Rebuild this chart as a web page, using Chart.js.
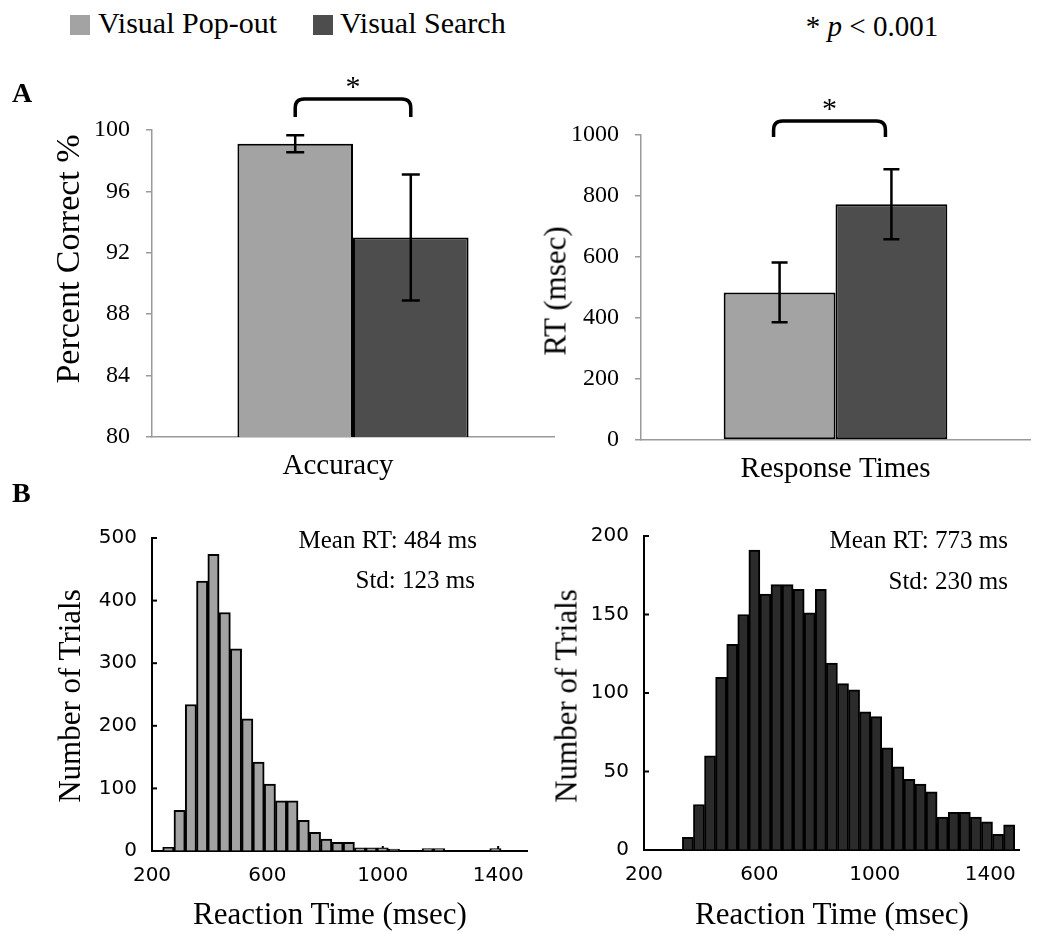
<!DOCTYPE html>
<html>
<head>
<meta charset="utf-8">
<title>Visual pop-out vs visual search</title>
<script src="https://cdn.jsdelivr.net/npm/chart.js@4.4.1/dist/chart.umd.min.js"></script>
<style>
  body { margin: 0; background: #fff; }
  #page { position: relative; width: 1050px; height: 935px; overflow: hidden;
          font-family: 'Liberation Serif', 'Times New Roman', serif; color: #000; }
  canvas { position: absolute; }
  .t { position: absolute; white-space: nowrap; line-height: 1; }
  .rot { transform: translate(-50%, -50%) rotate(-90deg); }
  .sq { position: absolute; width: 20px; height: 20px; }
</style>
</head>
<body>
<div id="page">
  <canvas id="accChart" width="560" height="430" style="left:0;top:60px"></canvas>
  <canvas id="rtChart" width="490" height="430" style="left:560px;top:60px"></canvas>
  <canvas id="popHist" width="560" height="410" style="left:0;top:490px"></canvas>
  <canvas id="searchHist" width="490" height="410" style="left:560px;top:490px"></canvas>

  <!-- legend -->
  <div class="sq" style="left:70px;top:15px;background:#a3a3a3"></div>
  <div class="t" id="leg0" style="left:98px;top:8px;font-size:30px"></div>
  <div class="sq" style="left:313px;top:15px;background:#4d4d4d"></div>
  <div class="t" id="leg1" style="left:340px;top:8px;font-size:30px"></div>
  <div class="t" style="left:672px;width:400px;text-align:center;top:12px;font-size:29px">* <i>p</i> &lt; 0.001</div>

  <div class="t" style="left:12px;top:79px;font-size:28px;font-weight:bold">A</div>
  <div class="t" style="left:12px;top:479px;font-size:28px;font-weight:bold">B</div>

  <!-- axis titles -->
  <div class="t rot" style="left:68px;top:259px;font-size:34px">Percent Correct %</div>
  <div class="t rot" style="left:555px;top:291px;font-size:31px">RT (msec)</div>
  <div class="t rot" style="left:69px;top:696px;font-size:31px">Number of Trials</div>
  <div class="t rot" style="left:566px;top:696px;font-size:31px">Number of Trials</div>
  <div class="t" style="left:130px;width:400px;text-align:center;top:898px;font-size:31px">Reaction Time (msec)</div>
  <div class="t" style="left:632px;width:400px;text-align:center;top:898px;font-size:31px">Reaction Time (msec)</div>

  <!-- histogram stats -->
  <div class="t" id="popMean" style="right:573px;top:527px;font-size:25px"></div>
  <div class="t" id="popStd" style="right:575px;top:567px;font-size:25px"></div>
  <div class="t" id="searchMean" style="right:42px;top:527px;font-size:25px"></div>
  <div class="t" id="searchStd" style="right:42px;top:568px;font-size:25px"></div>
</div>

<script>
// --- data ---
const groupLabels = ['Visual Pop-out', 'Visual Search'];

const accuracyCategory = ['Accuracy'];
const accuracyMean = [99.1, 93.0];
const accuracyErr = [0.55, 4.1];
const accuracyTicks = [80, 84, 88, 92, 96, 100];

const rtCategory = ['Response Times'];
const rtMean = [484, 773];
const rtErr = [98, 115];
const rtTicks = [0, 200, 400, 600, 800, 1000];

// histogram bin centres (ms) and counts
const popoutBins = [256.6, 295.7, 334.8, 373.9, 413.0, 452.1, 491.2, 530.3, 569.4, 608.5,
                    647.6, 686.7, 725.8, 764.9, 804.0, 843.1, 882.2, 921.3, 960.4, 999.5,
                    1038.6, 1077.7, 1116.8, 1155.9, 1195.0, 1234.1, 1273.2, 1312.3, 1351.4, 1390.5];
const popoutCounts = [6, 65, 234, 431, 474, 381, 323, 211, 142, 107,
                      80, 80, 49, 30, 19, 14, 14, 5, 5, 5,
                      3, 0, 0, 4, 4, 0, 0, 0, 0, 4];

const searchBins = [352.2, 390.6, 429.0, 467.4, 505.8, 544.2, 582.6, 621.0, 659.4, 697.8,
                    736.2, 774.6, 813.0, 851.4, 889.8, 928.2, 966.6, 1005.0, 1043.4, 1081.8,
                    1120.2, 1158.6, 1197.0, 1235.4, 1273.8, 1312.2, 1350.6, 1389.0, 1427.4, 1465.8];
const searchCounts = [8, 29, 60, 110, 131, 150, 191, 163, 169, 169,
                      166, 151, 166, 119, 106, 102, 88, 85, 65, 53,
                      45, 42, 37, 21, 24, 24, 21, 18, 10, 16];

const histXTicks = [200, 600, 1000, 1400];
const popoutYTicks = [0, 100, 200, 300, 400, 500];
const searchYTicks = [0, 50, 100, 150, 200];

const popoutStats = ['Mean RT: 484 ms', 'Std: 123 ms'];
const searchStats = ['Mean RT: 773 ms', 'Std: 230 ms'];

// --- styling ---
const lightGrey = '#a3a3a3';
const darkGrey = '#4d4d4d';
const histLight = '#a3a3a3';
const histDark = '#2b2b2b';
const axisGrey = '#9a9a9a';
const serif = "'Liberation Serif', 'Times New Roman', serif";
const pixelFont = "'DejaVu Sans', sans-serif";

Chart.defaults.font.family = serif;
Chart.defaults.color = '#000';
Chart.defaults.animation = false;

document.getElementById('leg0').textContent = groupLabels[0];
document.getElementById('leg1').textContent = groupLabels[1];
document.getElementById('popMean').textContent = popoutStats[0];
document.getElementById('popStd').textContent = popoutStats[1];
document.getElementById('searchMean').textContent = searchStats[0];
document.getElementById('searchStd').textContent = searchStats[1];

const plainNumber = v => String(v);

// error bars on grouped bars (one category)
const errorBars = {
  id: 'errorBars',
  afterDatasetsDraw(chart, args, opts) {
    const ctx = chart.ctx, y = chart.scales.y;
    ctx.save();
    ctx.strokeStyle = '#000';
    ctx.lineWidth = opts.width || 2.5;
    chart.data.datasets.forEach((ds, i) => {
      const bar = chart.getDatasetMeta(i).data[0];
      if (!bar || !ds.errors) return;
      const m = ds.data[0], e = ds.errors[0];
      const yt = y.getPixelForValue(m + e), yb = y.getPixelForValue(m - e);
      const cap = opts.cap || 8;
      ctx.beginPath();
      ctx.moveTo(bar.x, yt); ctx.lineTo(bar.x, yb);
      ctx.moveTo(bar.x - cap, yt); ctx.lineTo(bar.x + cap, yt);
      ctx.moveTo(bar.x - cap, yb); ctx.lineTo(bar.x + cap, yb);
      ctx.stroke();
    });
    ctx.restore();
  }
};

// significance bracket between the two bars
const sigBracket = {
  id: 'sigBracket',
  afterDraw(chart, args, opts) {
    if (!opts || opts.rise === undefined) return;
    const ctx = chart.ctx;
    const b0 = chart.getDatasetMeta(0).data[0], b1 = chart.getDatasetMeta(1).data[0];
    const x1 = b0.x + (opts.shift || 0), x2 = b1.x + (opts.shift || 0);
    const yTop = chart.chartArea.top - opts.rise;
    const yEnd = yTop + opts.drop;
    const r = 9;
    ctx.save();
    ctx.strokeStyle = '#000';
    ctx.lineWidth = 3.5;
    ctx.beginPath();
    ctx.moveTo(x1, yEnd);
    ctx.lineTo(x1, yTop + r);
    ctx.quadraticCurveTo(x1, yTop, x1 + r, yTop);
    ctx.lineTo(x2 - r, yTop);
    ctx.quadraticCurveTo(x2, yTop, x2, yTop + r);
    ctx.lineTo(x2, yEnd);
    ctx.stroke();
    ctx.font = '30px ' + serif;
    ctx.fillStyle = '#000';
    ctx.textAlign = 'center';
    ctx.textBaseline = 'middle';
    ctx.fillText('*', (x1 + x2) / 2, yTop - opts.star);
    ctx.restore();
  }
};

// short tick marks pointing into the plot (histograms)
const innerTicks = {
  id: 'innerTicks',
  beforeDatasetsDraw(chart, args, opts) {
    if (!opts || !opts.len) return;
    const ctx = chart.ctx, a = chart.chartArea, xs = chart.scales.x;
    ctx.save();
    ctx.strokeStyle = '#000';
    ctx.lineWidth = 2;
    xs.ticks.forEach((t, i) => {
      const px = xs.getPixelForTick(i);
      ctx.beginPath(); ctx.moveTo(px, a.bottom); ctx.lineTo(px, a.bottom - opts.len); ctx.stroke();
    });
    ctx.restore();
  },
  afterDatasetsDraw(chart, args, opts) {
    if (!opts || !opts.len) return;
    const ctx = chart.ctx, a = chart.chartArea, ys = chart.scales.y;
    ctx.save();
    ctx.strokeStyle = '#000';
    ctx.lineWidth = 2;
    ys.ticks.forEach((t, i) => {
      const py = ys.getPixelForTick(i);
      ctx.beginPath(); ctx.moveTo(a.left, py); ctx.lineTo(a.left + opts.len, py); ctx.stroke();
    });
    ctx.restore();
  }
};

function fixedTicks(list) {
  return scale => { scale.ticks = list.map(v => ({ value: v })); };
}

function barChart(id, labels, means, errs, ticks, opt) {
  return new Chart(document.getElementById(id), {
    type: 'bar',
    data: {
      labels: labels,
      datasets: [
        { label: groupLabels[0], data: [means[0]], errors: [errs[0]], backgroundColor: lightGrey,
          borderColor: '#000', borderWidth: 2, borderSkipped: false },
        { label: groupLabels[1], data: [means[1]], errors: [errs[1]], backgroundColor: darkGrey,
          borderColor: '#000', borderWidth: 2, borderSkipped: false }
      ]
    },
    options: {
      responsive: false,
      layout: { padding: opt.padding },
      categoryPercentage: 0.575,
      barPercentage: 1,
      plugins: {
        legend: { display: false },
        tooltip: { enabled: false },
        errorBars: { width: 2.5, cap: opt.cap },
        sigBracket: opt.bracket
      },
      scales: {
        x: {
          grid: { drawOnChartArea: false, drawTicks: false },
          border: { color: axisGrey, width: 1.5 },
          ticks: { font: { size: 29, family: serif }, padding: 12, labelOffset: opt.labelOffset || 0 },
          afterFit: s => { s.height = opt.xHeight; }
        },
        y: {
          min: ticks[0], max: ticks[ticks.length - 1],
          afterBuildTicks: fixedTicks(ticks),
          grid: { drawOnChartArea: false, tickLength: 6, color: axisGrey, lineWidth: 1.5 },
          border: { color: axisGrey, width: 1.5 },
          ticks: { font: { size: 24, family: serif }, padding: 16, callback: plainNumber },
          afterFit: s => { s.width = opt.yWidth; }
        }
      }
    },
    plugins: [errorBars, sigBracket]
  });
}

function histChart(id, bins, counts, yTicks, color, opt) {
  return new Chart(document.getElementById(id), {
    type: 'bar',
    data: {
      datasets: [{
        data: bins.map((b, i) => ({ x: b, y: counts[i] })),
        backgroundColor: color,
        borderColor: '#000',
        borderWidth: 2,
        barPercentage: 1,
        categoryPercentage: 1
      }]
    },
    options: {
      responsive: false,
      layout: { padding: opt.padding },
      plugins: {
        legend: { display: false },
        tooltip: { enabled: false },
        innerTicks: { len: 5 }
      },
      scales: {
        x: {
          type: 'linear', offset: false,
          min: histXTicks[0], max: 1500,
          afterBuildTicks: fixedTicks(histXTicks),
          grid: { drawOnChartArea: false, drawTicks: false },
          border: { color: '#000', width: 2 },
          ticks: { font: { size: 20, family: pixelFont }, padding: 13, callback: plainNumber },
          afterFit: s => { s.height = opt.xHeight; }
        },
        y: {
          min: yTicks[0], max: yTicks[yTicks.length - 1],
          afterBuildTicks: fixedTicks(yTicks),
          grid: { drawOnChartArea: false, drawTicks: false },
          border: { color: '#000', width: 2 },
          ticks: { font: { size: 20, family: pixelFont }, padding: 15, callback: plainNumber },
          afterFit: s => { s.width = opt.yWidth; }
        }
      }
    },
    plugins: [innerTicks]
  });
}

barChart('accChart', accuracyCategory, accuracyMean, accuracyErr, accuracyTicks, {
  padding: { top: 70, right: 6, left: 0, bottom: 0 },
  yWidth: 152, xHeight: 53, cap: 9, labelOffset: -15,
  bracket: { rise: 31, drop: 18, star: 11 }
});

barChart('rtChart', rtCategory, rtMean, rtErr, rtTicks, {
  padding: { top: 75, right: 20, left: 0, bottom: 0 },
  yWidth: 81, xHeight: 50, cap: 8,
  bracket: { rise: 14, drop: 16, star: 11, shift: -6 }
});

histChart('popHist', popoutBins, popoutCounts, popoutYTicks, histLight, {
  padding: { top: 48, right: 33, left: 0, bottom: 0 },
  yWidth: 152, xHeight: 49
});

histChart('searchHist', searchBins, searchCounts, searchYTicks, histDark, {
  padding: { top: 46, right: 31, left: 0, bottom: 0 },
  yWidth: 84, xHeight: 50
});
</script>
</body>
</html>
